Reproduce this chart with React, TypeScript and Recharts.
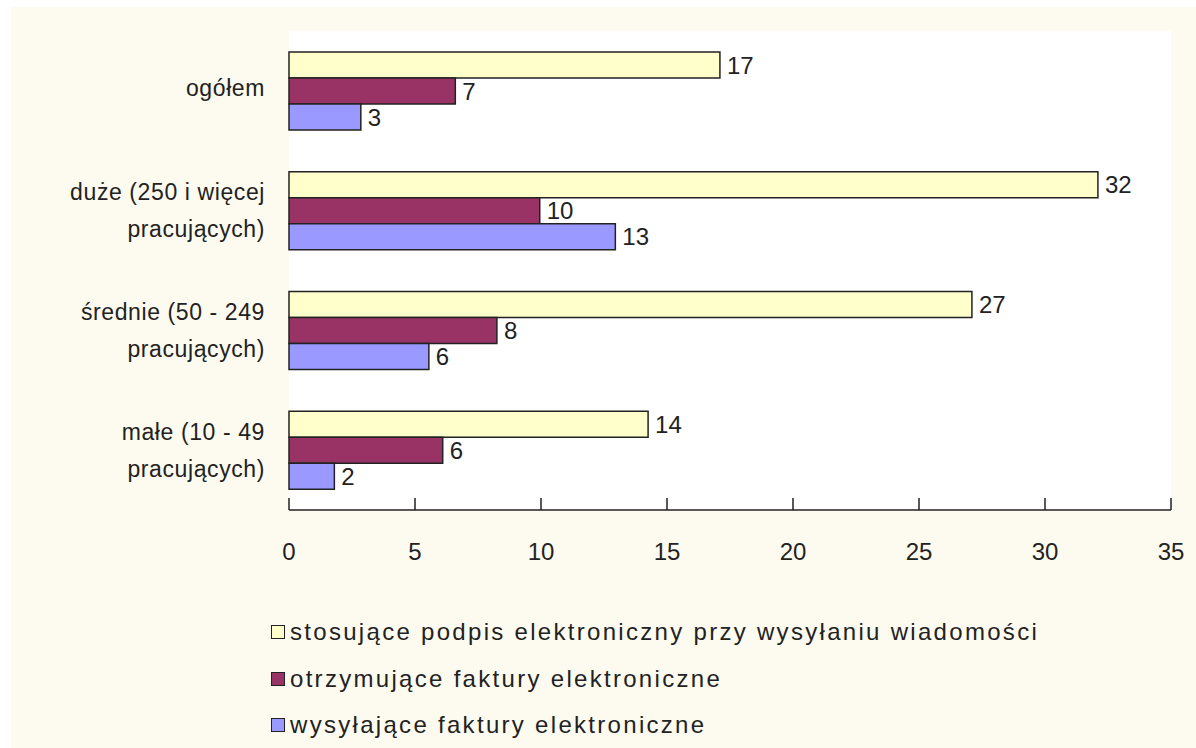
import React from 'react';
import { BarChart, Bar, XAxis, YAxis, CartesianGrid, LabelList, Legend } from 'recharts';

const categoryLines: string[][] = [
  ['ogółem'],
  ['duże (250 i więcej', 'pracujących)'],
  ['średnie (50 - 249', 'pracujących)'],
  ['małe (10 - 49', 'pracujących)'],
];
const categories = categoryLines.map((l) => l.join(' '));

const seriesNames = [
  'stosujące podpis elektroniczny przy wysyłaniu wiadomości',
  'otrzymujące faktury elektroniczne',
  'wysyłające faktury elektroniczne',
];
const seriesColors = ['#FFFFCC', '#993366', '#9999FF'];

const signatureValues = [17.1, 32.1, 27.1, 14.25];
const receivingValues = [6.6, 9.95, 8.25, 6.1];
const sendingValues = [2.85, 12.95, 5.55, 1.8];

const xTicks = [0, 5, 10, 15, 20, 25, 30, 35];

const data = categories.map((name, i) => ({
  name,
  signature: signatureValues[i],
  receiving: receivingValues[i],
  sending: sendingValues[i],
}));

const FONT = '"Liberation Sans", Arial, sans-serif';
const TEXT = '#222';

const YTick = (props: any) => {
  const { x, y, payload } = props;
  const idx = categories.indexOf(payload.value);
  const lines = idx >= 0 ? categoryLines[idx] : [String(payload.value)];
  const lh = 37;
  const start = lines.length === 1 ? -3 : -lh / 2;
  return (
    <g>
      {lines.map((ln, k) => (
        <text
          key={k}
          x={x}
          y={y + start + k * lh}
          textAnchor="end"
          dominantBaseline="central"
          fontFamily={FONT}
          fontSize={23}
          letterSpacing={0.6}
          fill={TEXT}
        >
          {ln}
        </text>
      ))}
    </g>
  );
};

const XTick = (props: any) => {
  const { x, y, payload } = props;
  return (
    <g>
      <line x1={x} x2={x} y1={y} y2={y - 12} stroke="#222" strokeWidth={1.5} />
      <text
        x={x}
        y={y + 41}
        textAnchor="middle"
        dominantBaseline="central"
        fontFamily={FONT}
        fontSize={24}
        fill={TEXT}
      >
        {payload.value}
      </text>
    </g>
  );
};

const keys = ['signature', 'receiving', 'sending'];

const LegendContent = () => (
  <div style={{ fontFamily: FONT, fontSize: 24, color: TEXT, letterSpacing: 2.3 }}>
    {seriesNames.map((n, i) => (
      <div key={i} style={{ display: 'flex', alignItems: 'center', height: 46.5, whiteSpace: 'nowrap' }}>
        <span
          style={{
            display: 'inline-block',
            width: 12,
            height: 12,
            background: seriesColors[i],
            border: '1.5px solid #222',
            marginRight: 5,
          }}
        />
        <span>{n}</span>
      </div>
    ))}
  </div>
);

export default function App() {
  return (
    <div style={{ position: 'absolute', left: 0, top: 0, width: 1196, height: 748, background: '#ffffff' }}>
      <div style={{ position: 'absolute', left: 11, top: 7, width: 1185, height: 741, background: '#FDFBF0' }} />
      <div style={{ position: 'absolute', left: 0, top: 0 }}>
        <BarChart
          width={1196}
          height={748}
          data={data}
          layout="vertical"
          margin={{ top: 31, right: 25, left: 0, bottom: 178 }}
          barGap={0}
        >
          <CartesianGrid fill="#ffffff" horizontal={false} vertical={false} />
          <XAxis
            type="number"
            domain={[0, 35]}
            ticks={xTicks}
            interval={0}
            height={60}
            tickSize={0}
            tickMargin={0}
            tickLine={false}
            axisLine={{ stroke: '#222', strokeWidth: 1.5 }}
            tick={<XTick />}
          />
          <YAxis
            type="category"
            dataKey="name"
            width={289}
            axisLine={false}
            tickLine={false}
            tickSize={0}
            tickMargin={24}
            interval={0}
            tick={<YTick />}
          />
          <Legend
            layout="vertical"
            align="center"
            verticalAlign="middle"
            wrapperStyle={{ left: 271, top: 609, width: 920 }}
            content={<LegendContent />}
          />
          {keys.map((k, i) => (
            <Bar
              key={k}
              dataKey={k}
              name={seriesNames[i]}
              fill={seriesColors[i]}
              stroke="#222"
              strokeWidth={1.5}
              barSize={26}
              isAnimationActive={false}
            >
              <LabelList
                dataKey={k}
                position="right"
                offset={7}
                formatter={(v: any) => Math.round(Number(v))}
                fontFamily={FONT}
                fontSize={24}
                fill={TEXT}
              />
            </Bar>
          ))}
        </BarChart>
      </div>
    </div>
  );
}
